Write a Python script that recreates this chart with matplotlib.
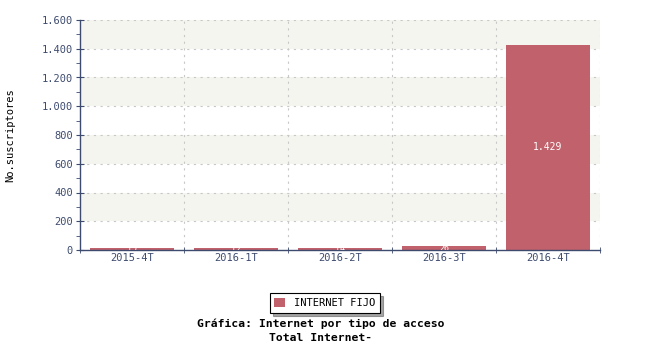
import numpy as np
import matplotlib
matplotlib.use("Agg")
import matplotlib.pyplot as plt
from matplotlib.ticker import FuncFormatter, MultipleLocator, FixedLocator

# data
periods = ['2015-4T', '2016-1T', '2016-2T', '2016-3T', '2016-4T']
internet_fijo = [15, 12, 14, 26, 1429]

axis_col = '#3d4b6e'
text_col = '#3d4b6e'
bar_col = '#c0616b'

plt.rcParams['font.family'] = ['DejaVu Sans Mono']

fig = plt.figure(figsize=(6.5, 3.5), dpi=100)
ax = fig.add_axes([80 / 650, 1 - 250 / 350, 520 / 650, 230 / 350])

x = np.arange(len(periods))
ymax = 1600

# alternating background bands
for lo in range(0, ymax, 200):
    if (lo // 200) % 2 == 1:
        ax.axhspan(lo, lo + 200, color='#f5f5f0', zorder=0, lw=0)

# dashed grid
for yv in range(200, ymax + 1, 200):
    ax.axhline(yv, color='#c8c8c8', ls=(0, (2, 4)), lw=0.8, zorder=1)
for xv in np.append(x[1:] - 0.5, x[-1] + 0.5):
    ax.axvline(xv, color='#c8c8c8', ls=(0, (2, 4)), lw=0.8, zorder=1)

bars = ax.bar(x, internet_fijo, width=0.8, color=bar_col, zorder=2, label='INTERNET FIJO')

def fmt(v, pos=None):
    return f'{int(v):,}'.replace(',', '.')

# value labels in the middle of each bar (small ones get cut by the axis, like the original)
for b, v in zip(bars, internet_fijo):
    ax.text(b.get_x() + b.get_width() / 2, v / 2, fmt(v), ha='center', va='center',
            color='white', fontsize=7 if v > 100 else 6, zorder=3, clip_on=True)

ax.set_xlim(-0.5, len(periods) - 0.5)
ax.set_ylim(0, ymax)
ax.set_xticks(x)
ax.set_xticklabels(periods)
ax.xaxis.set_minor_locator(FixedLocator(np.append(x - 0.5, x[-1] + 0.5)))
ax.yaxis.set_major_locator(MultipleLocator(200))
ax.yaxis.set_minor_locator(MultipleLocator(100))
ax.yaxis.set_major_formatter(FuncFormatter(fmt))

ax.tick_params(axis='x', which='major', length=0, labelsize=7.5, colors=text_col, pad=2)
ax.tick_params(axis='x', which='minor', length=5, direction='inout', color=axis_col)
ax.tick_params(axis='y', which='major', length=6, direction='inout', labelsize=7.5,
               colors=text_col, pad=2)
ax.tick_params(axis='y', which='minor', length=3, direction='out', color=axis_col)

for s in ['top', 'right']:
    ax.spines[s].set_visible(False)
for s in ['left', 'bottom']:
    ax.spines[s].set_color(axis_col)
    ax.spines[s].set_linewidth(1.0)

ax.set_ylabel('No.suscriptores', fontsize=7.5, color='black', labelpad=19)

leg = fig.legend(handles=[bars], labels=['INTERNET FIJO'], loc='center',
                 bbox_to_anchor=(325 / 650, 1 - 303 / 350), fontsize=7.5,
                 frameon=True, fancybox=False, shadow=True, handlelength=1.0,
                 handleheight=1.0, borderpad=0.45, handletextpad=0.9, borderaxespad=0)
leg.get_frame().set_edgecolor('black')
leg.get_frame().set_linewidth(0.8)

fig.text(321 / 650, 1 - 324 / 350, 'Gráfica: Internet por tipo de acceso', ha='center',
         va='center', fontsize=8.2, fontweight='bold', color='black')
fig.text(321 / 650, 1 - 338 / 350, 'Total Internet-', ha='center',
         va='center', fontsize=8.2, fontweight='bold', color='black')

fig.savefig('out.png', dpi=100)
